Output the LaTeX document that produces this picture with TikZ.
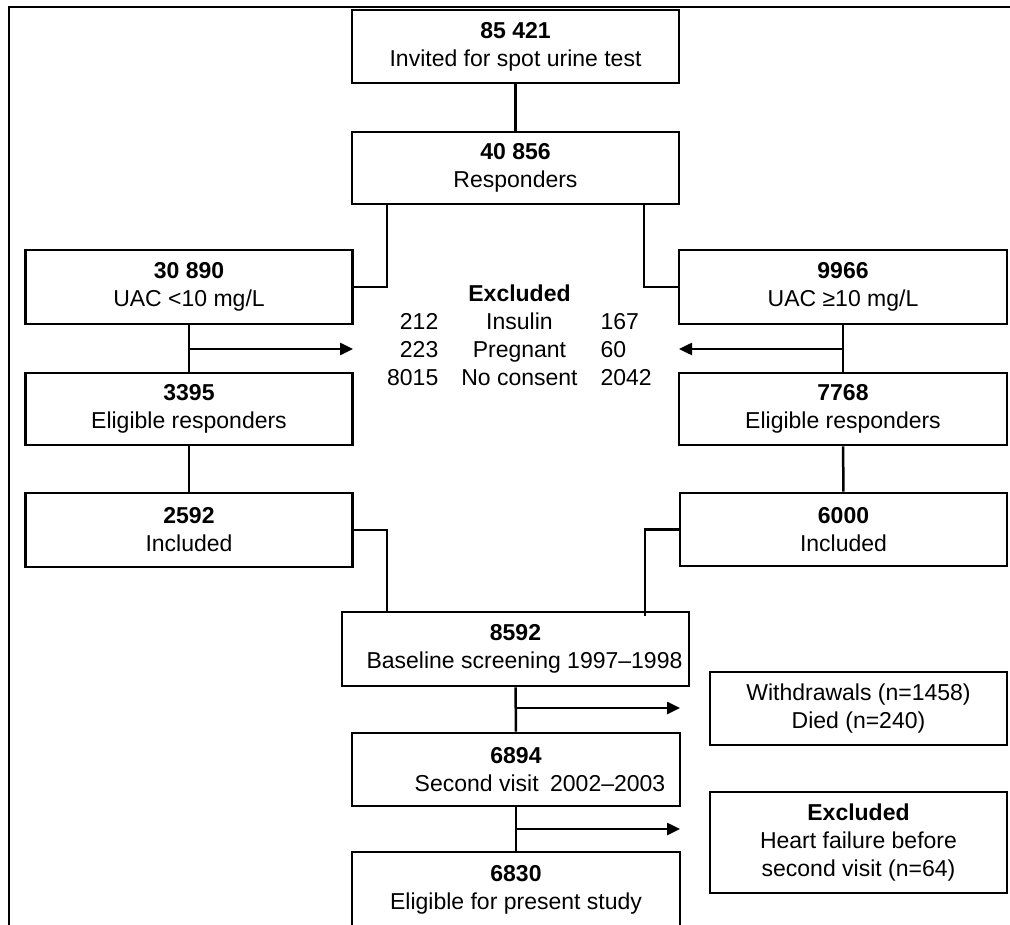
\documentclass[tikz,border=0pt]{standalone}
\usepackage{fontspec}
\setmainfont{Liberation Sans}
\usepackage{tikz}
\usetikzlibrary{arrows.meta}

\tikzset{
  caja/.style={draw, line width=2.6pt, align=center, inner sep=0pt,
    minimum width=327pt, minimum height=73pt},
  linea/.style={line width=2.5pt},
  flecha/.style={line width=2.5pt, -{Triangle[length=13pt,width=12pt]}}
}

\begin{document}
\begin{tikzpicture}[x=1pt, y=-1pt, font=\fontsize{23}{28}\selectfont]

% Marco
\useasboundingbox (0,0) rectangle (1010,925);
\draw[line width=2pt] (9,935) |- (1015,7);

% Cajas de arriba
\node (invit) at (515.5,46.5) [caja] {\textbf{85 421}\\Invited for spot urine test};
\node (resp) at (515.5,168) [caja, minimum height=72pt] {\textbf{40 856}\\Responders};

% Rama UAC <10
\node (uacbajo) at (189,287) [caja, minimum height=74pt] {\textbf{30 890}\\UAC <10 mg/L};
\node (elegbajo) at (189,409) [caja, minimum height=72pt] {\textbf{3395}\\Eligible responders};
\node (inclbajo) at (189,530) [caja, minimum height=74pt] {\textbf{2592}\\Included};

% Rama UAC >=10
\node (uacalto) at (843,287) [caja, minimum width=328pt, minimum height=74pt] {\textbf{9966}\\UAC ≥10 mg/L};
\node (elegalto) at (843,409) [caja, minimum width=328pt, minimum height=72pt] {\textbf{7768}\\Eligible responders};
\node (inclalto) at (843.5,529.5) [caja] {\textbf{6000}\\Included};

% Excluidos (centro)
\node (excl) at (519.5,338) [inner sep=0pt] {\setlength{\tabcolsep}{11.5pt}%
  \begin{tabular}{@{}r c l@{}}
    \multicolumn{3}{c}{\textbf{Excluded}}\\
    212 & Insulin & 167\\
    223 & Pregnant & 60\\
    8015 & No consent & 2042
  \end{tabular}};

% Cajas de abajo
\node (base) at (515.5,649) [caja, minimum width=347pt, minimum height=74pt] {\textbf{8592}\\\hspace*{18pt}Baseline screening 1997--1998};
\node (segunda) at (516,769.5) [caja, minimum width=328pt] {\textbf{6894}\\\hspace*{48pt}Second visit\enspace 2002--2003};
\node (presente) at (516,890) [caja, minimum width=328pt, minimum height=76pt] {\textbf{6830}\\Eligible for present study};
\node (retiros) at (858.5,708.5) [caja, minimum width=297pt] {Withdrawals (n=1458)\\Died (n=240)};
\node (exclcf) at (858.5,842.5) [caja, minimum width=297pt, minimum height=101pt] {\textbf{Excluded}\\Heart failure before\\second visit (n=64)};

% Puntos de las lineas
\coordinate (rizq) at (387,204);
\coordinate (rder) at (644,204);
\coordinate (fizq) at (189,349);
\coordinate (fizqfin) at (353,349);
\coordinate (fder) at (843,349);
\coordinate (fderfin) at (679,349);
\coordinate (bizq) at (387,613);
\coordinate (bder) at (645,616);
\coordinate (fret) at (516,708);
\coordinate (fretfin) at (680,708);
\coordinate (fexc) at (516,829);
\coordinate (fexcfin) at (680,829);

% Lineas
\draw[linea] (invit) -- (resp);
\draw[linea] (rizq) |- (uacbajo.east);
\draw[linea] (rder) |- (uacalto.west);
\draw[linea] (uacbajo) -- (elegbajo);
\draw[linea] (uacalto) -- (elegalto);
\draw[linea] (elegbajo) -- (inclbajo);
\draw[linea] (elegalto) -- (inclalto);
\draw[linea] (inclbajo.east) -| (bizq);
\draw[linea] (inclalto.west) -| (bder);
\draw[linea] (base) -- (segunda);
\draw[linea] (segunda) -- (presente);

% Flechas
\draw[flecha] (fizq) -- (fizqfin);
\draw[flecha] (fder) -- (fderfin);
\draw[flecha] (fret) -- (fretfin);
\draw[flecha] (fexc) -- (fexcfin);

\end{tikzpicture}
\end{document}
